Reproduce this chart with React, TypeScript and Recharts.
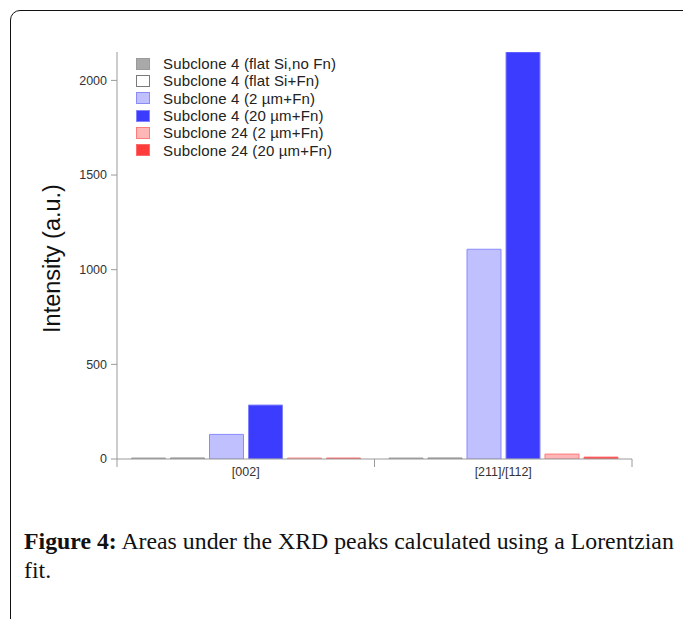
import React from 'react';
import { BarChart, Bar, XAxis, YAxis, Legend, Label } from 'recharts';

const categories = ['[002]', '[211]/[112]'];
const seriesNames = [
  'Subclone 4 (flat Si,no Fn)',
  'Subclone 4 (flat Si+Fn)',
  'Subclone 4 (2 µm+Fn)',
  'Subclone 4 (20 µm+Fn)',
  'Subclone 24 (2 µm+Fn)',
  'Subclone 24 (20 µm+Fn)',
];
const sc4FlatNoFn = [5, 5];
const sc4FlatFn = [5, 5];
const sc4Two = [130, 1108];
const sc4Twenty = [285, 2150];
const sc24Two = [5, 26];
const sc24Twenty = [5, 10];
const yTicks = [0, 500, 1000, 1500, 2000];

const seriesValues = [sc4FlatNoFn, sc4FlatFn, sc4Two, sc4Twenty, sc24Two, sc24Twenty];
const fills = ['#a9a9a9', '#ffffff', '#c0c0ff', '#3c3cff', '#ffb6b6', '#ff3c3c'];
const strokes = ['#9a9a9a', '#7a7a7a', '#8a8aff', '#8282ff', '#ff7c7c', '#ff6a6a'];
const keys = ['s1', 's2', 's3', 's4', 's5', 's6'];

const data = categories.map((c, i) => {
  const row: any = { category: c };
  keys.forEach((k, j) => {
    row[k] = seriesValues[j][i];
  });
  return row;
});

const AXIS = '#9a9a9a';
const SANS = '"Liberation Sans", Arial, sans-serif';

const XTick = (props: any) => {
  const { x, y, payload, index, visibleTicksCount } = props;
  const half = payload && payload.offset ? payload.offset : 129;
  return (
    <g>
      <line x1={x - half} x2={x - half} y1={y} y2={y + 8} stroke={AXIS} strokeWidth={1} />
      {index === visibleTicksCount - 1 && (
        <line x1={x + half} x2={x + half} y1={y} y2={y + 8} stroke={AXIS} strokeWidth={1} />
      )}
      <text x={x} y={y + 17} textAnchor="middle" fontSize={12.5} fill="#333" fontFamily={SANS}>
        {payload.value}
      </text>
    </g>
  );
};

const LegendContent = () => (
  <div style={{ fontFamily: SANS, fontSize: 15, letterSpacing: 0.15, color: '#222' }}>
    {seriesNames.map((n, i) => (
      <div key={n} style={{ display: 'flex', alignItems: 'center', height: 17.3 }}>
        <span
          style={{
            display: 'inline-block',
            width: 12,
            height: 10,
            background: fills[i],
            border: `1px solid ${strokes[i]}`,
            marginRight: 13,
          }}
        />
        <span style={{ whiteSpace: 'nowrap' }}>{n}</span>
      </div>
    ))}
  </div>
);

const YLabel = (props: any) => {
  const vb = props.viewBox || { x: 57, y: 52, width: 60, height: 407 };
  const cx = 52;
  const cy = vb.y + vb.height / 2 + 3;
  return (
    <text
      x={cx}
      y={cy}
      transform={`rotate(-90 ${cx} ${cy})`}
      textAnchor="middle"
      dominantBaseline="central"
      fontSize={23.5}
      fontFamily={SANS}
      fill="#111"
    >
      Intensity (a.u.)
    </text>
  );
};

export default function App() {
  return (
    <div style={{ position: 'absolute', left: 0, top: 0, width: 683, height: 619, overflow: 'hidden', background: '#fff' }}>
      <div
        style={{
          position: 'absolute',
          left: 10,
          top: 10,
          width: 700,
          height: 660,
          border: '1.5px solid #111',
          borderRadius: 10,
          boxSizing: 'border-box',
        }}
      />
      <div style={{ position: 'absolute', left: 0, top: 0 }}>
        <BarChart
          width={683}
          height={619}
          data={data}
          margin={{ top: 52, right: 51, bottom: 130, left: 57 }}
          barCategoryGap={14.5}
          barGap={5}
        >
          <XAxis
            dataKey="category"
            height={30}
            axisLine={{ stroke: AXIS }}
            tickLine={false}
            tickSize={0}
            tickMargin={0}
            tick={<XTick />}
            interval={0}
          />
          <YAxis
            width={60}
            domain={[0, 2150]}
            ticks={yTicks}
            allowDataOverflow
            axisLine={{ stroke: AXIS }}
            tickLine={{ stroke: AXIS }}
            tickSize={6}
            tickMargin={4}
            tick={{ fontSize: 12.5, fill: '#333', fontFamily: SANS }}
          >
            <Label content={<YLabel />} />
          </YAxis>
          <Legend
            verticalAlign="middle"
            align="center"
            layout="vertical"
            content={<LegendContent />}
            wrapperStyle={{ position: 'absolute', left: 136, top: 55, width: 'auto', height: 'auto' }}
          />
          {keys.map((k, i) => (
            <Bar
              key={k}
              dataKey={k}
              name={seriesNames[i]}
              fill={fills[i]}
              stroke={strokes[i]}
              strokeWidth={1}
              isAnimationActive={false}
            />
          ))}
        </BarChart>
      </div>
      <div
        style={{
          position: 'absolute',
          left: 24,
          top: 527,
          width: 670,
          fontFamily: '"Liberation Serif", "Times New Roman", serif',
          fontSize: 23.8,
          lineHeight: '29px',
          color: '#111',
          whiteSpace: 'nowrap',
        }}
      >
        <b>Figure 4:</b> Areas under the XRD peaks calculated using a Lorentzian
        <br />
        fit.
      </div>
    </div>
  );
}
